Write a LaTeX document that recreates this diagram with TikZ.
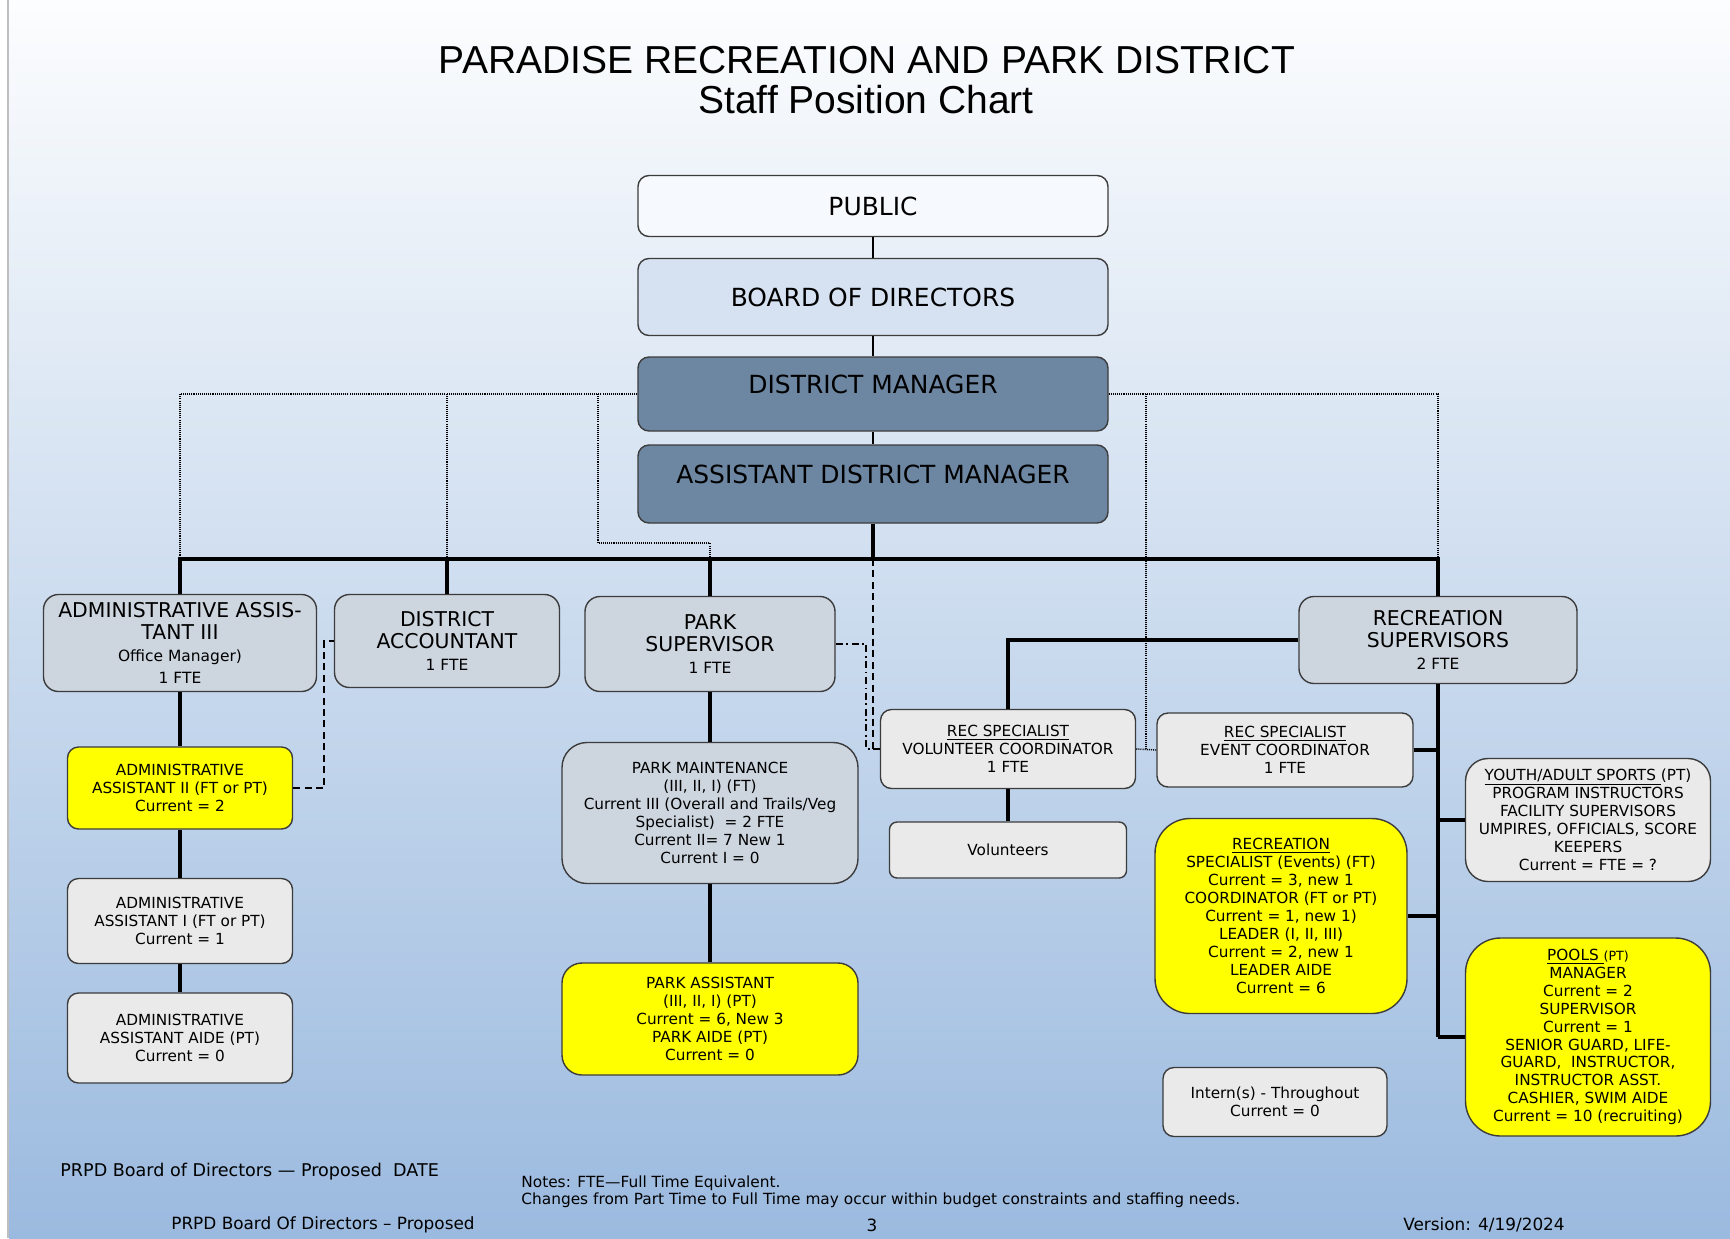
\documentclass[tikz,border=0pt]{standalone}
\usepackage{fontspec}
\setmainfont{DejaVu Sans}
\newfontfamily\titlefont{Liberation Sans}
\usepackage{xcolor}

\definecolor{boxline}{RGB}{60,60,60}
\definecolor{publicfill}{RGB}{246,249,253}
\definecolor{boardfill}{RGB}{214,226,241}
\definecolor{mgrfill}{RGB}{109,135,163}
\definecolor{rankgrey}{RGB}{205,213,223}
\definecolor{staffgrey}{RGB}{234,234,234}
\definecolor{hiyellow}{RGB}{255,255,0}
\definecolor{bgtop}{RGB}{252,253,254}
\definecolor{bgbottom}{RGB}{155,186,223}

\newcommand{\rankfoot}[1]{{\fontsize{8.8}{10}\selectfont #1}}
\newcommand{\ptsmall}[1]{{\fontsize{7.2}{9}\selectfont #1}}

\begin{document}
\begin{tikzpicture}[x=0.02cm,y=-0.02cm,
  posbox/.style={draw=boxline, line width=0.8pt, rounded corners=0.22cm, align=center, inner sep=0pt},
  wh/.style 2 args={minimum width=#1*0.02cm, minimum height=#2*0.02cm},
  headbox/.style={posbox, fill=#1, font=\fontsize{14.2}{17}\selectfont},
  rankbox/.style={posbox, fill=rankgrey, rounded corners=0.3cm, font=\fontsize{11.6}{12.4}\selectfont},
  staffbox/.style={posbox, fill=#1, font=\fontsize{8.7}{10.2}\selectfont},
  footnote/.style={inner sep=0pt, font=\fontsize{9.6}{11}\selectfont},
  orgline/.style={line width=1.4pt},
  busline/.style={line width=2.4pt},
  dotline/.style={line width=0.8pt, dash pattern=on 0.6pt off 0.6pt},
  dashline/.style={line width=0.9pt, dash pattern=on 4pt off 2.5pt},
  dashdotline/.style={line width=0.9pt, dash pattern=on 4pt off 2pt on 1pt off 2pt}]
\useasboundingbox (0,0) rectangle (1730,1238);
\fill[white] (0,0) rectangle (1730,1238); % page
\shade[top color=bgtop, bottom color=bgbottom] (9,0) rectangle (1730,1238); % slide background
\draw[black!25, line width=0.6pt] (8,0) -- (8,1238); % left edge
%% Title
\node[font=\titlefont\fontsize{22.2}{26}\selectfont] (title) at (867,60) {PARADISE RECREATION AND PARK DISTRICT};
\node[font=\titlefont\fontsize{22.2}{26}\selectfont] (subtitle) at (866,100) {Staff Position Chart};
%% Top of the chart
\node[headbox=publicfill, wh={470}{61}] (public) at (873,206) {PUBLIC};
\node[headbox=boardfill, wh={470}{77}] (board) at (873,297) {BOARD OF DIRECTORS};
\node[headbox=mgrfill, wh={470}{74}, text depth=0.4cm] (dm) at (873,394) {DISTRICT MANAGER};
\node[headbox=mgrfill, wh={470}{78}, text depth=0.4cm] (adm) at (873,484) {ASSISTANT DISTRICT MANAGER};
\coordinate (bus) at (873,559);
%% Second row
\node[rankbox, wh={273}{97}] (aa3) at (180,643) {ADMINISTRATIVE ASSIS-\\TANT III\\\rankfoot{Office Manager)}\\\rankfoot{1 FTE}};
\node[rankbox, wh={225}{93}] (acct) at (447,641) {DISTRICT\\ACCOUNTANT\\\rankfoot{1 FTE}};
\node[rankbox, wh={250}{95}] (parksup) at (710,644) {PARK\\SUPERVISOR\\\rankfoot{1 FTE}};
\node[rankbox, wh={278}{87}] (recsup) at (1438,640) {RECREATION\\SUPERVISORS\\\rankfoot{2 FTE}};
%% Office staff
\node[staffbox=hiyellow, wh={225}{82}] (aa2) at (180,788) {ADMINISTRATIVE\\ASSISTANT II (FT or PT)\\Current = 2};
\node[staffbox=staffgrey, wh={225}{85}] (aa1) at (180,921) {ADMINISTRATIVE\\ASSISTANT I (FT or PT)\\Current = 1};
\node[staffbox=staffgrey, wh={225}{90}] (aide) at (180,1038) {ADMINISTRATIVE\\ASSISTANT AIDE (PT)\\Current = 0};
%% Park staff
\node[staffbox=rankgrey, wh={296}{141}, rounded corners=0.5cm] (parkmaint) at (710,813) {PARK MAINTENANCE\\(III, II, I) (FT)\\Current III (Overall and Trails/Veg\\Specialist)\ \ = 2 FTE\\Current II= 7 New 1\\Current I = 0};
\node[staffbox=hiyellow, wh={296}{112}, rounded corners=0.4cm] (parkasst) at (710,1019) {PARK ASSISTANT\\(III, II, I) (PT)\\Current = 6, New 3\\PARK AIDE (PT)\\Current = 0};
%% Recreation staff
\node[staffbox=staffgrey, wh={255}{79}] (volco) at (1008,749) {\underline{REC SPECIALIST}\\VOLUNTEER COORDINATOR\\1 FTE};
\node[staffbox=staffgrey, wh={237}{56}, rounded corners=0.15cm] (vols) at (1008,850) {Volunteers};
\node[staffbox=staffgrey, wh={256}{74}] (eventco) at (1285,750) {\underline{REC SPECIALIST}\\EVENT COORDINATOR\\1 FTE};
\node[staffbox=hiyellow, wh={252}{195}, rounded corners=0.7cm] (rec) at (1281,916) {\underline{RECREATION}\\SPECIALIST (Events) (FT)\\Current = 3, new 1\\COORDINATOR (FT or PT)\\Current = 1, new 1)\\LEADER (I, II, III)\\Current = 2, new 1\\LEADER AIDE\\Current = 6};
\node[staffbox=staffgrey, wh={224}{69}] (intern) at (1275,1102) {Intern(s) - Throughout\\Current = 0};
\node[staffbox=staffgrey, wh={245}{123}, rounded corners=0.45cm] (youth) at (1588,820) {\underline{YOUTH/ADULT SPORTS\ }(PT)\\PROGRAM INSTRUCTORS\\FACILITY SUPERVISORS\\UMPIRES, OFFICIALS, SCORE\\KEEPERS\\Current = FTE = ?};
\node[staffbox=hiyellow, wh={245}{198}, rounded corners=0.7cm] (pools) at (1588,1037) {\underline{POOLS\ }\ptsmall{(PT)}\\MANAGER\\Current = 2\\SUPERVISOR\\Current = 1\\SENIOR GUARD, LIFE-\\GUARD,\ \ INSTRUCTOR,\\INSTRUCTOR ASST.\\CASHIER, SWIM AIDE\\Current = 10 (recruiting)};
%% Dotted lines from the district manager
\draw[dotline] (dm.west) -| (aa3.north); % DM to AA III
\draw[dotline] (acct.north |- dm.west) -- (acct.north); % DM to accountant
\coordinate (psbend) at (598,543);
\draw[dotline] (psbend |- dm.west) -- (psbend) -| (parksup.north); % DM to park supervisor
\draw[dotline] (dm.east) -| (recsup.north); % DM to rec supervisors
\coordinate (specjoin) at (1146,749);
\draw[dotline] (specjoin |- dm.east) -- (specjoin); % DM to rec specialists
\draw[dotline] (volco.east) -- (eventco.west);
%% Dashed lines
\coordinate (aajog) at (324,788);
\draw[dashline] (aa2.east) -- (aajog) |- (acct.west); % AA II to accountant
\draw[dashline] (bus) |- (volco.west); % ADM to volunteer coordinator
\coordinate (psjog) at (866,749);
\draw[dashdotline] (parksup.east) -| (psjog) -- (volco.west); % park supervisor to volunteer coordinator
%% Solid lines
\draw[orgline] (public) -- (board);
\draw[orgline] (board) -- (dm);
\draw[orgline] (dm) -- (adm);
\draw[busline] (adm) -- (bus);
\draw[busline] (aa3.north) |- (bus) -| (recsup.north); % main bus
\draw[busline] (acct.north |- bus) -- (acct.north);
\draw[busline] (parksup.north |- bus) -- (parksup.north);
\draw[busline] (aa3) -- (aa2);
\draw[busline] (aa2) -- (aa1);
\draw[busline] (aa1) -- (aide);
\draw[busline] (parksup) -- (parkmaint);
\draw[busline] (parkmaint) -- (parkasst);
\draw[busline] (recsup.west) -| (volco.north);
\draw[busline] (volco) -- (vols);
\draw[busline] (recsup.south) -- (recsup.south |- pools.west); % rec spine
\draw[busline] (eventco.east) -- (eventco.east -| recsup.south);
\draw[busline] (youth.west) -- (youth.west -| recsup.south);
\draw[busline] (rec.east) -- (rec.east -| recsup.south);
\draw[busline] (pools.west) -- (pools.west -| recsup.south);
%% Footer
\node[footnote, anchor=west, font=\fontsize{10}{12}\selectfont] (footdate) at (60,1172) {PRPD Board of Directors — Proposed\ \ DATE};
\node[footnote, anchor=north west, align=left, font=\fontsize{8.75}{10.2}\selectfont] (notes) at (521,1175) {Notes: FTE—Full Time Equivalent.\\Changes from Part Time to Full Time may occur within budget constraints and staffing needs.};
\node[footnote, anchor=west] (footboard) at (171,1225) {PRPD Board Of Directors – Proposed};
\node[footnote] (pagenum) at (872,1225) {3};
\node[footnote, anchor=west] (version) at (1403,1225) {Version: 4/19/2024};
\end{tikzpicture}
\end{document}
